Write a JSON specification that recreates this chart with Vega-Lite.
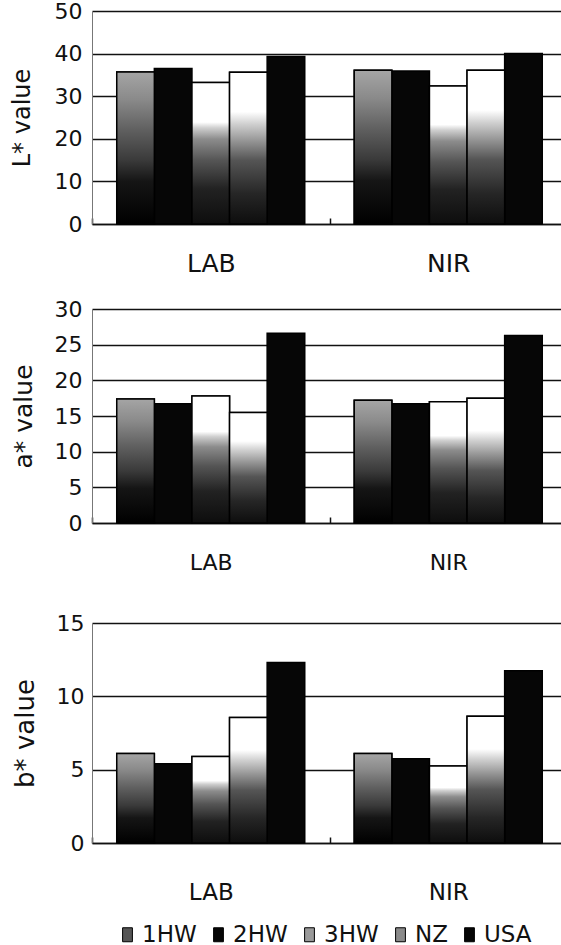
{
  "$schema": "https://vega.github.io/schema/vega-lite/v6.json",
  "autosize": {"type": "pad"},
  "padding": {"left": 10, "top": 0, "right": 0, "bottom": 0},
  "background": "white",
  "config": {
    "view": {"stroke": null},
    "font": "DejaVu Sans",
    "legend": {
      "orient": "none", "legendX": 24, "legendY": 912, "direction": "horizontal",
      "title": null, "labelFontSize": 23, "labelColor": "#111", "labelOffset": 3,
      "columnPadding": 10, "symbolType": "M-0.7,-1H0.7V1H-0.7Z", "symbolSize": 196,
      "symbolStrokeColor": "#000", "symbolStrokeWidth": 1
    }
  },
  "data": {"values": [
    {"m": "L", "method": "LAB", "grp": "1HW", "v": 35.7},
    {"m": "L", "method": "LAB", "grp": "2HW", "v": 36.5},
    {"m": "L", "method": "LAB", "grp": "3HW", "v": 33.2},
    {"m": "L", "method": "LAB", "grp": "NZ", "v": 35.6},
    {"m": "L", "method": "LAB", "grp": "USA", "v": 39.3},
    {"m": "L", "method": "NIR", "grp": "1HW", "v": 36.1},
    {"m": "L", "method": "NIR", "grp": "2HW", "v": 35.9},
    {"m": "L", "method": "NIR", "grp": "3HW", "v": 32.4},
    {"m": "L", "method": "NIR", "grp": "NZ", "v": 36.1},
    {"m": "L", "method": "NIR", "grp": "USA", "v": 40.0},
    {"m": "a", "method": "LAB", "grp": "1HW", "v": 17.4},
    {"m": "a", "method": "LAB", "grp": "2HW", "v": 16.7},
    {"m": "a", "method": "LAB", "grp": "3HW", "v": 17.8},
    {"m": "a", "method": "LAB", "grp": "NZ", "v": 15.5},
    {"m": "a", "method": "LAB", "grp": "USA", "v": 26.6},
    {"m": "a", "method": "NIR", "grp": "1HW", "v": 17.2},
    {"m": "a", "method": "NIR", "grp": "2HW", "v": 16.7},
    {"m": "a", "method": "NIR", "grp": "3HW", "v": 17.0},
    {"m": "a", "method": "NIR", "grp": "NZ", "v": 17.5},
    {"m": "a", "method": "NIR", "grp": "USA", "v": 26.3},
    {"m": "b", "method": "LAB", "grp": "1HW", "v": 6.1},
    {"m": "b", "method": "LAB", "grp": "2HW", "v": 5.4},
    {"m": "b", "method": "LAB", "grp": "3HW", "v": 5.9},
    {"m": "b", "method": "LAB", "grp": "NZ", "v": 8.55},
    {"m": "b", "method": "LAB", "grp": "USA", "v": 12.3},
    {"m": "b", "method": "NIR", "grp": "1HW", "v": 6.1},
    {"m": "b", "method": "NIR", "grp": "2HW", "v": 5.75},
    {"m": "b", "method": "NIR", "grp": "3HW", "v": 5.25},
    {"m": "b", "method": "NIR", "grp": "NZ", "v": 8.65},
    {"m": "b", "method": "NIR", "grp": "USA", "v": 11.75}
  ]},
  "spacing": 39,
  "vconcat": [
    {
      "spacing": 22,
      "vconcat": [
        {
          "width": 469, "height": 213,
          "transform": [{"filter": "datum.m == 'L'"}],
          "encoding": {
            "x": {"field": "method", "type": "nominal",
              "scale": {"range": [0, 475], "paddingInner": 0, "paddingOuter": 0},
              "axis": {"title": null, "labelAngle": 0, "labelFontSize": 25, "labelColor": "#111",
                "labelPadding": 33, "tickBand": "extent", "ticks": true, "tickSize": -6, "tickColor": "#111", "tickWidth": 1.5,
                "domainColor": "#111", "domainWidth": 1.5, "grid": false}},
            "xOffset": {"field": "grp", "type": "nominal", "scale": {"domain": ["1HW", "2HW", "3HW", "NZ", "USA"], "paddingOuter": 0.658, "paddingInner": 0}},
            "y": {"field": "v", "type": "quantitative", "scale": {"domain": [0, 50]},
              "axis": {"values": [0, 10, 20, 30, 40, 50], "title": "L* value", "titleFontSize": 24, "titleFontWeight": "normal",
                "titleColor": "#111", "titlePadding": 20, "labelFontSize": 22, "labelColor": "#111", "labelPadding": 10,
                "ticks": false, "domainColor": "#777", "grid": true, "gridColor": "#111", "gridWidth": 1.3}}
          },
          "layer": [
            {"mark": {"type": "bar", "stroke": "#000", "strokeWidth": 1.5},
             "encoding": {"color": {"field": "grp", "type": "nominal",
               "scale": {"domain": ["1HW", "2HW", "3HW", "NZ", "USA"], "range": ["#555555", "#060606", "#9a9a9a", "#8a8a8a", "#060606"]}}}},
            {"transform": [{"filter": "datum.grp == '1HW'"}],
             "mark": {"type": "bar", "stroke": "#000", "strokeWidth": 1.5, "fill": {"gradient": "linear", "x1": 0, "y1": 1, "x2": 0, "y2": 0, "stops": [{"offset": 0, "color": "#000000"}, {"offset": 0.28, "color": "#151515"}, {"offset": 0.42, "color": "#3a3a3a"}, {"offset": 0.62, "color": "#606060"}, {"offset": 0.82, "color": "#8a8a8a"}, {"offset": 1, "color": "#a5a5a5"}]}}},
            {"transform": [{"filter": "datum.grp == '3HW'"}],
             "mark": {"type": "bar", "stroke": "#000", "strokeWidth": 1.5, "fill": {"gradient": "linear", "x1": 0, "y1": 1, "x2": 0, "y2": 0, "stops": [{"offset": 0, "color": "#0d0d0d"}, {"offset": 0.25, "color": "#222222"}, {"offset": 0.45, "color": "#555555"}, {"offset": 0.6, "color": "#8c8c8c"}, {"offset": 0.68, "color": "#cfcfcf"}, {"offset": 0.72, "color": "#ffffff"}, {"offset": 1, "color": "#ffffff"}]}}},
            {"transform": [{"filter": "datum.grp == 'NZ'"}],
             "mark": {"type": "bar", "stroke": "#000", "strokeWidth": 1.5, "fill": {"gradient": "linear", "x1": 0, "y1": 1, "x2": 0, "y2": 0, "stops": [{"offset": 0, "color": "#0d0d0d"}, {"offset": 0.2, "color": "#262626"}, {"offset": 0.42, "color": "#555555"}, {"offset": 0.55, "color": "#969696"}, {"offset": 0.66, "color": "#d0d0d0"}, {"offset": 0.74, "color": "#ffffff"}, {"offset": 1, "color": "#ffffff"}]}}}
          ]
        },
        {
          "width": 469, "height": 214,
          "transform": [{"filter": "datum.m == 'a'"}],
          "encoding": {
            "x": {"field": "method", "type": "nominal",
              "scale": {"range": [0, 475], "paddingInner": 0, "paddingOuter": 0},
              "axis": {"title": null, "labelAngle": 0, "labelFontSize": 22, "labelColor": "#111",
                "labelPadding": 35, "tickBand": "extent", "ticks": true, "tickSize": -6, "tickColor": "#111", "tickWidth": 1.5,
                "domainColor": "#111", "domainWidth": 1.5, "grid": false}},
            "xOffset": {"field": "grp", "type": "nominal", "scale": {"domain": ["1HW", "2HW", "3HW", "NZ", "USA"], "paddingOuter": 0.658, "paddingInner": 0}},
            "y": {"field": "v", "type": "quantitative", "scale": {"domain": [0, 30]},
              "axis": {"values": [0, 5, 10, 15, 20, 25, 30], "title": "a* value", "titleFontSize": 25, "titleFontWeight": "normal",
                "titleColor": "#111", "titlePadding": 18, "labelFontSize": 22, "labelColor": "#111", "labelPadding": 10,
                "ticks": false, "domainColor": "#777", "grid": true, "gridColor": "#111", "gridWidth": 1.3}}
          },
          "layer": [
            {"mark": {"type": "bar", "stroke": "#000", "strokeWidth": 1.5},
             "encoding": {"color": {"field": "grp", "type": "nominal"}}},
            {"transform": [{"filter": "datum.grp == '1HW'"}],
             "mark": {"type": "bar", "stroke": "#000", "strokeWidth": 1.5, "fill": {"gradient": "linear", "x1": 0, "y1": 1, "x2": 0, "y2": 0, "stops": [{"offset": 0, "color": "#000000"}, {"offset": 0.28, "color": "#151515"}, {"offset": 0.42, "color": "#3a3a3a"}, {"offset": 0.62, "color": "#606060"}, {"offset": 0.82, "color": "#8a8a8a"}, {"offset": 1, "color": "#a5a5a5"}]}}},
            {"transform": [{"filter": "datum.grp == '3HW'"}],
             "mark": {"type": "bar", "stroke": "#000", "strokeWidth": 1.5, "fill": {"gradient": "linear", "x1": 0, "y1": 1, "x2": 0, "y2": 0, "stops": [{"offset": 0, "color": "#0d0d0d"}, {"offset": 0.25, "color": "#222222"}, {"offset": 0.45, "color": "#555555"}, {"offset": 0.6, "color": "#8c8c8c"}, {"offset": 0.68, "color": "#cfcfcf"}, {"offset": 0.72, "color": "#ffffff"}, {"offset": 1, "color": "#ffffff"}]}}},
            {"transform": [{"filter": "datum.grp == 'NZ'"}],
             "mark": {"type": "bar", "stroke": "#000", "strokeWidth": 1.5, "fill": {"gradient": "linear", "x1": 0, "y1": 1, "x2": 0, "y2": 0, "stops": [{"offset": 0, "color": "#0d0d0d"}, {"offset": 0.2, "color": "#262626"}, {"offset": 0.42, "color": "#555555"}, {"offset": 0.55, "color": "#969696"}, {"offset": 0.66, "color": "#d0d0d0"}, {"offset": 0.74, "color": "#ffffff"}, {"offset": 1, "color": "#ffffff"}]}}}
          ]
        }
      ]
    },
    {
      "width": 469, "height": 220,
      "transform": [{"filter": "datum.m == 'b'"}],
      "encoding": {
        "x": {"field": "method", "type": "nominal",
          "scale": {"range": [0, 475], "paddingInner": 0, "paddingOuter": 0},
          "axis": {"title": null, "labelAngle": 0, "labelFontSize": 23, "labelColor": "#111",
            "labelPadding": 44, "tickBand": "extent", "ticks": true, "tickSize": -6, "tickColor": "#111", "tickWidth": 1.5,
            "domainColor": "#111", "domainWidth": 1.5, "grid": false}},
        "xOffset": {"field": "grp", "type": "nominal", "scale": {"domain": ["1HW", "2HW", "3HW", "NZ", "USA"], "paddingOuter": 0.658, "paddingInner": 0}},
        "y": {"field": "v", "type": "quantitative", "scale": {"domain": [0, 15]},
          "axis": {"values": [0, 5, 10, 15], "title": "b* value", "titleFontSize": 26, "titleFontWeight": "normal",
            "titleColor": "#111", "titlePadding": 18, "labelFontSize": 22, "labelColor": "#111", "labelPadding": 8,
            "ticks": false, "domainColor": "#777", "grid": true, "gridColor": "#111", "gridWidth": 1.3}}
      },
      "layer": [
        {"mark": {"type": "bar", "stroke": "#000", "strokeWidth": 1.5},
         "encoding": {"color": {"field": "grp", "type": "nominal"}}},
        {"transform": [{"filter": "datum.grp == '1HW'"}],
         "mark": {"type": "bar", "stroke": "#000", "strokeWidth": 1.5, "fill": {"gradient": "linear", "x1": 0, "y1": 1, "x2": 0, "y2": 0, "stops": [{"offset": 0, "color": "#000000"}, {"offset": 0.28, "color": "#151515"}, {"offset": 0.42, "color": "#3a3a3a"}, {"offset": 0.62, "color": "#606060"}, {"offset": 0.82, "color": "#8a8a8a"}, {"offset": 1, "color": "#a5a5a5"}]}}},
        {"transform": [{"filter": "datum.grp == '3HW'"}],
         "mark": {"type": "bar", "stroke": "#000", "strokeWidth": 1.5, "fill": {"gradient": "linear", "x1": 0, "y1": 1, "x2": 0, "y2": 0, "stops": [{"offset": 0, "color": "#0d0d0d"}, {"offset": 0.25, "color": "#222222"}, {"offset": 0.45, "color": "#555555"}, {"offset": 0.6, "color": "#8c8c8c"}, {"offset": 0.68, "color": "#cfcfcf"}, {"offset": 0.72, "color": "#ffffff"}, {"offset": 1, "color": "#ffffff"}]}}},
        {"transform": [{"filter": "datum.grp == 'NZ'"}],
         "mark": {"type": "bar", "stroke": "#000", "strokeWidth": 1.5, "fill": {"gradient": "linear", "x1": 0, "y1": 1, "x2": 0, "y2": 0, "stops": [{"offset": 0, "color": "#0d0d0d"}, {"offset": 0.2, "color": "#262626"}, {"offset": 0.42, "color": "#555555"}, {"offset": 0.55, "color": "#969696"}, {"offset": 0.66, "color": "#d0d0d0"}, {"offset": 0.74, "color": "#ffffff"}, {"offset": 1, "color": "#ffffff"}]}}}
      ]
    }
  ]
}
